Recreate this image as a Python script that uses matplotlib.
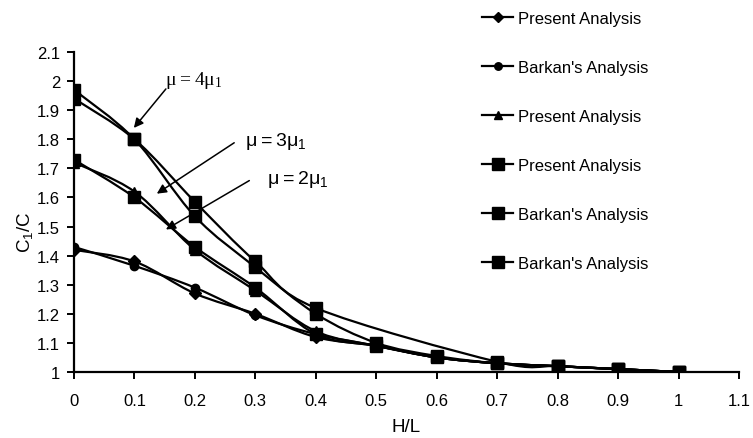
import matplotlib
matplotlib.use("Agg")
import matplotlib.pyplot as plt
from matplotlib.path import Path
from matplotlib.patches import PathPatch
from matplotlib.lines import Line2D
import numpy as np

plt.rcParams['font.family'] = ['Liberation Sans', 'DejaVu Sans']

# ---- data ----
hl_full = [0, 0.1, 0.2, 0.3, 0.4, 0.5, 0.6, 0.7, 0.8, 0.9, 1.0]
hl_skip = [0, 0.1, 0.2, 0.3, 0.4, 0.7, 0.8, 0.9, 1.0]

present_mu2 = [1.42, 1.38, 1.27, 1.20, 1.12, 1.09, 1.05, 1.03, 1.02, 1.01, 1.00]
barkan_mu2 = [1.43, 1.365, 1.29, 1.195, 1.13, 1.09, 1.05, 1.03, 1.02, 1.01, 1.00]
present_mu3 = [1.72, 1.62, 1.42, 1.28, 1.14, 1.09, 1.05, 1.03, 1.02, 1.01, 1.00]
present_mu4 = [1.97, 1.80, 1.535, 1.36, 1.20, 1.10, 1.055, 1.03, 1.02, 1.01, 1.00]
barkan_mu3 = [1.73, 1.60, 1.43, 1.29, 1.13, 1.09, 1.05, 1.03, 1.02, 1.01, 1.00]
barkan_mu4 = [1.94, 1.80, 1.585, 1.38, 1.22, 1.035, 1.02, 1.01, 1.00]

series = [
    (hl_full, present_mu2, 'D', 6.0, "Present Analysis"),
    (hl_full, barkan_mu2, 'o', 6.0, "Barkan's Analysis"),
    (hl_full, present_mu3, '^', 7.0, "Present Analysis"),
    (hl_full, present_mu4, 's', 9.0, "Present Analysis"),
    (hl_full, barkan_mu3, 's', 9.0, "Barkan's Analysis"),
    (hl_skip, barkan_mu4, 's', 9.0, "Barkan's Analysis"),
]

x_ticks = [0, 0.1, 0.2, 0.3, 0.4, 0.5, 0.6, 0.7, 0.8, 0.9, 1.0, 1.1]
x_labels = ['0', '0.1', '0.2', '0.3', '0.4', '0.5', '0.6', '0.7', '0.8', '0.9', '1', '1.1']
y_ticks = [1.0, 1.1, 1.2, 1.3, 1.4, 1.5, 1.6, 1.7, 1.8, 1.9, 2.0, 2.1]
y_labels = ['1', '1.1', '1.2', '1.3', '1.4', '1.5', '1.6', '1.7', '1.8', '1.9', '2', '2.1']


def smooth_path(xs, ys):
    pts = np.column_stack([np.asarray(xs, float), np.asarray(ys, float)])
    n = len(pts)
    verts = [pts[0]]
    codes = [Path.MOVETO]
    for i in range(n - 1):
        p0 = pts[i - 1] if i > 0 else pts[i]
        p1 = pts[i]
        p2 = pts[i + 1]
        p3 = pts[i + 2] if i + 2 < n else pts[i + 1]
        c1 = p1 + (p2 - p0) / 6.0
        c2 = p2 - (p3 - p1) / 6.0
        verts += [c1, c2, p2]
        codes += [Path.CURVE4] * 3
    return Path(verts, codes)


W, H = 753, 439
fig = plt.figure(figsize=(W / 100, H / 100), dpi=100)
ax = fig.add_axes([74 / W, 1 - 373 / H, (739 - 74) / W, (373 - 53) / H])

handles = []
for xs, ys, mk, ms, lab in series:
    patch = PathPatch(smooth_path(xs, ys), fill=False, edgecolor='black', lw=1.6,
                      zorder=2, capstyle='round', joinstyle='round')
    ax.add_patch(patch)
    ax.plot(xs, ys, linestyle='none', marker=mk, markersize=ms, color='black', zorder=3)
    handles.append(Line2D([], [], color='black', lw=1.6, marker=mk, markersize=ms * 0.9, label=lab))

ax.set_xlim(0, 1.1)
ax.set_ylim(1.0, 2.1)
ax.set_xticks(x_ticks)
ax.set_xticklabels(x_labels)
ax.set_yticks(y_ticks)
ax.set_yticklabels(y_labels)
ax.tick_params(axis='both', direction='out', length=5, width=1.4, labelsize=12, pad=5)
ax.tick_params(axis='x', pad=10)
for s in ['top', 'right']:
    ax.spines[s].set_visible(False)
for s in ['left', 'bottom']:
    ax.spines[s].set_linewidth(1.6)
ax.set_xlabel('H/L', fontsize=13.5)
ax.xaxis.set_label_coords(0.5, -0.145)
ax.set_ylabel(r'C$\mathregular{_1}$/C', fontsize=13.5)
ax.yaxis.set_label_coords(-0.058, 0.44)

# annotations
arrow = dict(arrowstyle='-|>', color='black', lw=1.1, mutation_scale=14, shrinkA=0, shrinkB=0)
ax.annotate('', xy=(0.099, 1.839), xytext=(0.152, 1.973), arrowprops=arrow)
ax.text(0.198, 2.007, r'$\mathregular{μ = 4μ_1}$', family=['Liberation Serif'], fontsize=14,
        ha='center', va='center')
ax.annotate('', xy=(0.137, 1.613), xytext=(0.265, 1.788), arrowprops=arrow)
ax.text(0.333, 1.795, r'$\mathregular{μ=3μ_1}$', fontsize=14, ha='center', va='center')
ax.annotate('', xy=(0.152, 1.49), xytext=(0.29, 1.658), arrowprops=arrow)
ax.text(0.37, 1.664, r'$\mathregular{μ = 2μ_1}$', fontsize=14, ha='center', va='center')

fig.legend(handles=handles, loc='upper left', bbox_to_anchor=(482 / W, 1 - 12 / H), frameon=False,
           fontsize=12, labelspacing=2.04, handlelength=1.86, handletextpad=0.3,
           borderpad=0, borderaxespad=0)

fig.savefig('out.png', dpi=100)
